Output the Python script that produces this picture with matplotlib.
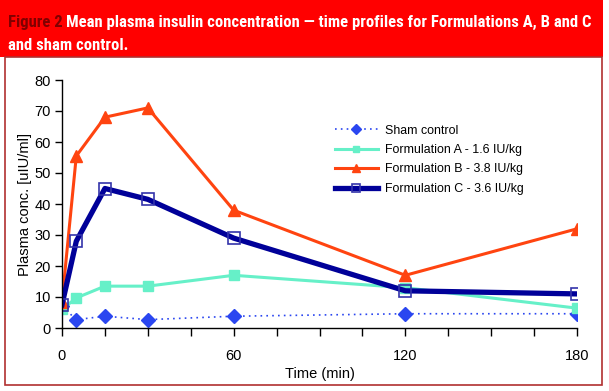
import matplotlib
matplotlib.use("Agg")
import matplotlib.pyplot as plt
from matplotlib import font_manager
from matplotlib.patches import Rectangle
from matplotlib.ticker import MultipleLocator, FixedLocator

# Data
time_min = [0, 5, 15, 30, 60, 120, 180]
sham = [7.0, 2.7, 3.8, 2.7, 3.8, 4.6, 4.6]
form_a = [6.0, 9.7, 13.5, 13.5, 17.0, 13.0, 6.4]
form_b = [8.5, 55.5, 68.0, 71.0, 38.0, 17.0, 32.0]
form_c = [7.5, 28.0, 45.0, 41.5, 29.0, 12.0, 11.0]

labels = ["Sham control", "Formulation A - 1.6 IU/kg",
          "Formulation B - 3.8 IU/kg", "Formulation C - 3.6 IU/kg"]
x_labels = [0, 60, 120, 180]

W, H = 609, 391
fig = plt.figure(figsize=(W / 100, H / 100), dpi=100)
plt.rcParams['font.family'] = ['Liberation Sans', 'DejaVu Sans']

def fx(px):
    return px / W

def fy(py):
    return 1 - py / H

# red header band and dark red frame
fig.patches.append(Rectangle((0, fy(57)), fx(603), 1 - fy(57), transform=fig.transFigure,
                             facecolor="#ff0000", edgecolor="none", zorder=0))
fig.patches.append(Rectangle((fx(5), fy(385)), fx(597), fy(57) - fy(385), transform=fig.transFigure,
                             facecolor="none", edgecolor="#b03030", linewidth=1.2, zorder=0))

ax = fig.add_axes([fx(62), fy(328), fx(577) - fx(62), fy(80) - fy(328)])

ax.plot(time_min, sham, color="#2a46f0", linestyle=(0, (1, 2.5)), linewidth=1.2,
        marker="D", markersize=7, label=labels[0])
ax.plot(time_min, form_a, color="#66f0c8", linewidth=2.2,
        marker="s", markersize=6.5, label=labels[1])
ax.plot(time_min, form_b, color="#ff4410", linewidth=2.2,
        marker="^", markersize=9, label=labels[2])
ax.plot(time_min, form_c, color="#000099", linewidth=3.8,
        marker="s", markersize=8, markerfacecolor="none", markeredgecolor="#3333aa",
        markeredgewidth=1.2, label=labels[3])

ax.set_xlim(0, 180)
ax.set_ylim(0, 80)
ax.xaxis.set_major_locator(FixedLocator(x_labels))
ax.xaxis.set_minor_locator(MultipleLocator(15))
ax.yaxis.set_major_locator(MultipleLocator(10))
ax.spines["top"].set_visible(False)
ax.spines["right"].set_visible(False)
for s in ["left", "bottom"]:
    ax.spines[s].set_linewidth(1.0)
ax.tick_params(axis="x", which="both", direction="out", length=6, width=1, pad=9, labelsize=10.5)
ax.tick_params(axis="x", which="minor", labelbottom=False)
ax.tick_params(axis="y", direction="out", length=5, width=1, pad=3, labelsize=10.5)
ax.set_xlabel("Time (min)", fontsize=10.5, labelpad=3)
ax.set_ylabel("Plasma conc. [uIU/ml]", fontsize=10.5, labelpad=2)
ax.patch.set_alpha(0)

leg = ax.legend(loc="upper left", bbox_to_anchor=(0.52, 0.84), frameon=False, fontsize=8.9,
                handlelength=3.5, handletextpad=0.6, labelspacing=0.6, borderaxespad=0,
                markerscale=0.7)

# title in the red band; prefer a narrow face, sized so the first line spans the band
installed = {f.name for f in font_manager.fontManager.ttflist}
title_family = "Liberation Sans"
for cand in ["Liberation Sans Narrow", "Roboto Condensed", "Open Sans Condensed", "Roboto"]:
    if cand in installed:
        title_family = cand
        break
title_font = dict(fontweight="bold", family=[title_family, "DejaVu Sans"])
line1_rest = "Mean plasma insulin concentration \u2014 time profiles for Formulations A, B and C"
fs = 11.5
renderer = fig.canvas.get_renderer()
probe = fig.text(0, 0, "Figure 2 " + line1_rest, fontsize=fs, **title_font)
w = probe.get_window_extent(renderer).width
probe.remove()
fs = min(fs * (582 / w), 13)

t1 = fig.text(fx(8), fy(27), "Figure 2 ", color="#800000", fontsize=fs, **title_font)
x1 = t1.get_window_extent(renderer).x1
fig.text(x1 / W, fy(27), line1_rest, color="white", fontsize=fs, **title_font)
fig.text(fx(8), fy(50), "and sham control.", color="white", fontsize=fs, **title_font)

fig.savefig("out.png", dpi=100)
